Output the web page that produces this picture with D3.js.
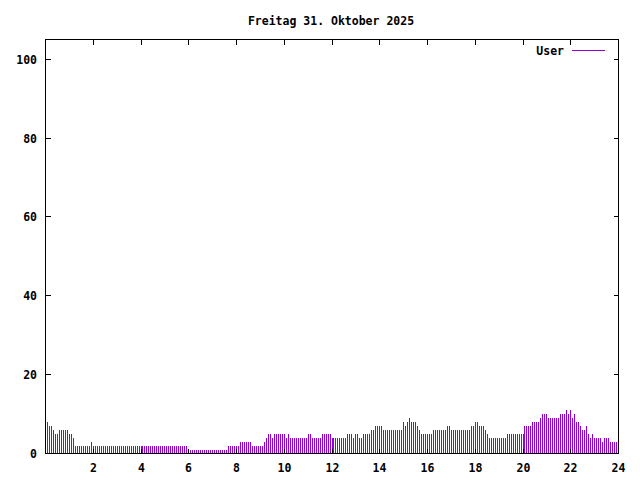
<!DOCTYPE html>
<html><head><meta charset="utf-8">
<script src="https://cdn.jsdelivr.net/npm/d3@7/dist/d3.min.js"></script>
<style>body{margin:0;background:#fff}svg{display:block}</style>
</head><body>
<svg id="chart" width="640" height="480"></svg>
<script>
const chartTitle = "Freitag 31. Oktober 2025";
const seriesName = "User";
const stepMinutes = 5;
// one value per 5 minutes, 12 per hour (rows = hours 0..23)
const userValues = [
  8,8,7,7,6,5,5,6,6,6,6,6,
  5,5,4,2,2,2,2,2,2,2,2,3,
  2,2,2,2,2,2,2,2,2,2,2,2,
  2,2,2,2,2,2,2,2,2,2,2,2,
  2,2,2,2,2,2,2,2,2,2,2,2,
  2,2,2,2,2,2,2,2,2,2,2,2,
  1,1,1,1,1,1,1,1,1,1,1,1,
  1,1,1,1,1,1,1,1,2,2,2,2,
  2,2,3,3,3,3,3,3,2,2,2,2,
  2,2,3,4,5,5,4,5,5,5,5,5,
  5,4,5,4,4,4,4,4,4,4,4,4,
  5,5,4,4,4,4,4,5,5,5,5,5,
  4,4,4,4,4,4,4,4,5,5,5,4,
  5,5,4,4,5,5,5,5,6,6,7,7,
  7,7,6,6,6,6,6,6,6,6,6,6,
  8,7,8,9,8,8,8,7,6,5,5,5,
  5,5,5,6,6,6,6,6,6,6,7,7,
  6,6,6,6,6,6,6,6,6,6,7,7,
  8,8,7,7,7,6,5,4,4,4,4,4,
  4,4,4,4,5,5,5,5,5,5,5,5,
  5,7,7,7,7,8,8,8,8,9,10,10,
  10,9,9,9,9,9,9,10,10,10,11,10,
  11,9,10,8,8,7,6,6,7,5,4,5,
  4,4,4,4,3,4,4,4,3,3,3,3
];
const xTickValues = [2,4,6,8,10,12,14,16,18,20,22,24];
const yTickValues = [0,20,40,60,80,100];
const xDomain = [0,24];
const yDomain = [0,105];

const color = "#9400d3";
const font = "'DejaVu Sans Mono', monospace";
const svg = d3.select("#chart");
const L = 45.5, R = 618.5, T = 39.5, B = 453.5;
const x = d3.scaleLinear().domain(xDomain).range([L, R]);
const y = d3.scaleLinear().domain(yDomain).range([B, T]);

const data = userValues.map((v,i) => ({t: i*stepMinutes/60, v}));

// bars (impulses)
svg.append("g").attr("shape-rendering","crispEdges")
  .selectAll("rect").data(data).join("rect")
  .attr("x", d => Math.floor(x(d.t)))
  .attr("width", 1)
  .attr("y", d => Math.round(y(d.v)))
  .attr("height", d => Math.max(0, Math.floor(B) - Math.round(y(d.v))))
  .attr("fill", color);

// border
const g = svg.append("g").attr("shape-rendering","crispEdges");
g.append("rect").attr("x",L).attr("y",T).attr("width",R-L).attr("height",B-T)
  .attr("fill","none").attr("stroke","#000").attr("stroke-width",1);

const tl = 5;
// y ticks (left and right, inward)
yTickValues.forEach(v => {
  const yy = Math.floor(y(v)) + 0.5;
  g.append("line").attr("x1",L).attr("x2",L+tl).attr("y1",yy).attr("y2",yy).attr("stroke","#000");
  g.append("line").attr("x1",R).attr("x2",R-tl).attr("y1",yy).attr("y2",yy).attr("stroke","#000");
  svg.append("text").attr("x",37).attr("y",yy+4.5).attr("text-anchor","end")
    .attr("font-family",font).attr("font-weight","bold").attr("font-size","11.5px").text(d3.format("d")(v));
});
// x ticks (bottom and top, inward)
xTickValues.forEach(v => {
  const xx = Math.floor(x(v)) + 0.5;
  g.append("line").attr("x1",xx).attr("x2",xx).attr("y1",B).attr("y2",B-tl).attr("stroke","#000");
  g.append("line").attr("x1",xx).attr("x2",xx).attr("y1",T).attr("y2",T+tl).attr("stroke","#000");
  svg.append("text").attr("x",xx).attr("y",472).attr("text-anchor","middle")
    .attr("font-family",font).attr("font-weight","bold").attr("font-size","11.5px").text(d3.format("d")(v));
});

// title
svg.append("text").attr("x",331).attr("y",25).attr("text-anchor","middle")
  .attr("font-family",font).attr("font-weight","bold").attr("font-size","11.5px").text(chartTitle);

// legend
svg.append("text").attr("x",564).attr("y",55).attr("text-anchor","end")
  .attr("font-family",font).attr("font-weight","bold").attr("font-size","11.5px").text(seriesName);
svg.append("line").attr("x1",572).attr("x2",605).attr("y1",50.5).attr("y2",50.5)
  .attr("stroke",color).attr("stroke-width",1).attr("shape-rendering","crispEdges");
</script>
</body></html>
